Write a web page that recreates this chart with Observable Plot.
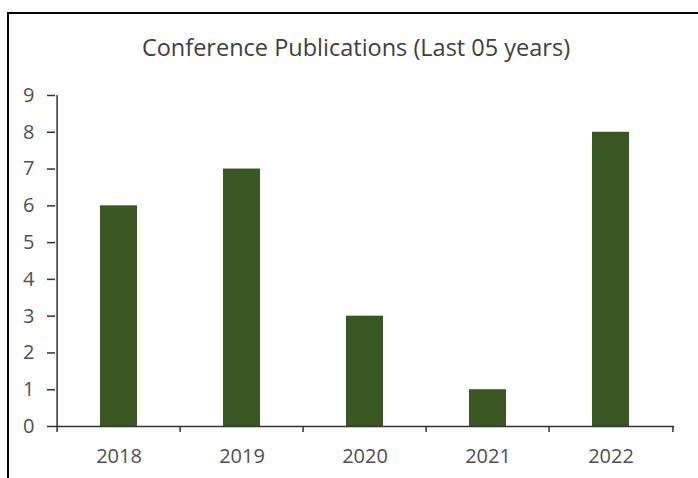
<!DOCTYPE html>
<html><head><meta charset="utf-8">
<script src="https://cdn.jsdelivr.net/npm/d3@7"></script>
<script src="https://cdn.jsdelivr.net/npm/@observablehq/plot@0.6"></script>
<style>
body{margin:0;background:#fff;}
#wrap{position:relative;width:698px;height:478px;overflow:hidden;background:#fff;}
#frame{position:absolute;left:7px;top:12px;right:-10px;bottom:-10px;border-left:2px solid #000;border-top:2px solid #000;pointer-events:none;}
</style></head><body>
<div id="wrap"><div id="frame"></div></div>
<script>
const title = "Conference Publications (Last 05 years)";
const years = ["2018", "2019", "2020", "2021", "2022"];
const publications = [6, 7, 3, 1, 8];
const yTicks = [0, 1, 2, 3, 4, 5, 6, 7, 8, 9];

const data = years.map((year, i) => ({year, count: publications[i]}));
const W = 698, H = 478, mL = 55, mR = 24, mT = 95, mB = 52;
const half = (W - mL - mR) / years.length / 2;
const axisColor = "#333333";

const chart = Plot.plot({
  width: W, height: H,
  marginLeft: mL, marginRight: mR, marginTop: mT, marginBottom: mB,
  style: {fontFamily: "'Open Sans', sans-serif", fontSize: "20px", color: "#505050", background: "transparent", overflow: "visible"},
  x: {domain: years, paddingInner: 0.7, paddingOuter: 0.35, label: null},
  y: {domain: [0, 9], label: null},
  marks: [
    Plot.barY(data, {x: "year", y: "count", fill: "#385723"}),
    Plot.ruleY([0], {stroke: axisColor, strokeWidth: 1.5}),
    Plot.ruleX([years[0]], {x: d => d, dx: -half, y1: 0, y2: 9, stroke: axisColor, strokeWidth: 1.5}),
    Plot.axisY({ticks: yTicks, tickSize: 8, tickPadding: 13, stroke: axisColor, strokeWidth: 1.5, label: null, tickFormat: d => String(d)}),
    Plot.axisX({tickSize: 0, tickPadding: 22, label: null}),
    Plot.axisX({tickSize: 6, dx: -half, stroke: axisColor, strokeWidth: 1.5, tickFormat: () => "", label: null}),
    Plot.axisX({ticks: [years[years.length - 1]], tickSize: 6, dx: half, stroke: axisColor, strokeWidth: 1.5, tickFormat: () => "", label: null}),
    Plot.text([title], {frameAnchor: "top", lineAnchor: "middle", dy: -47, dx: -9, fontSize: 23.5, fill: "#404040"})
  ]
});
document.getElementById("wrap").insertBefore(chart, document.getElementById("frame"));
</script>
</body></html>
